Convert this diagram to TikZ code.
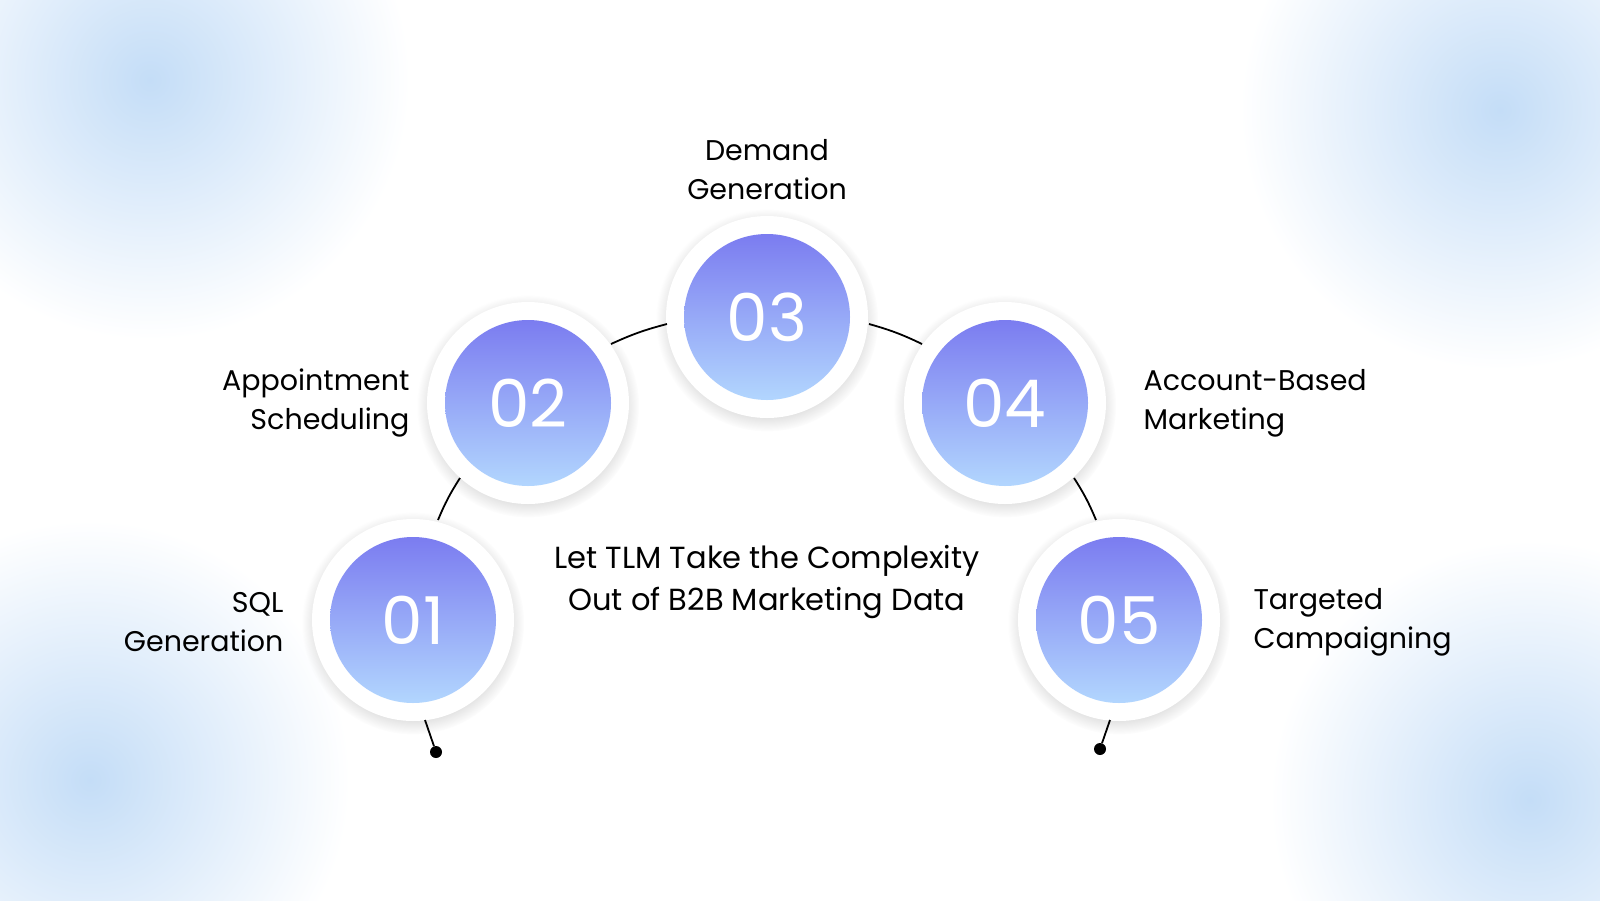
\documentclass[tikz,border=0pt]{standalone}
\usepackage{fontspec}
\setmainfont{Poppins}
\usetikzlibrary{shadows}
\definecolor{topc}{HTML}{7B7CF0}
\definecolor{botc}{HTML}{B2D6FE}
\definecolor{blob}{HTML}{C4DDF7}
\tikzset{
 ring/.style={circle,fill=white,minimum size=202pt,inner sep=0,circular drop shadow={shadow xshift=0pt,shadow yshift=-3pt,opacity=0.25}},
 num/.style={circle,minimum size=166pt,inner sep=0,top color=topc,bottom color=botc,text=white,font=\fontsize{66}{66}\selectfont},
 lbl/.style={font=\fontsize{28.5}{39}\selectfont,text=black},
 conn/.style={line width=1.8pt},
 dotc/.style={circle,fill=black,inner sep=0,minimum size=12pt}
}
\begin{document}
\begin{tikzpicture}[x=1pt,y=-1pt]
\useasboundingbox (0,0) rectangle (1600,900);
\begin{scope}
\clip (0,0) rectangle (1600,900);
\fill[white] (0,0) rectangle (1600,900);
\shade[inner color=blob,outer color=white] (150,80) circle (260);
\shade[inner color=blob,outer color=white] (1500,110) circle (260);
\shade[inner color=blob,outer color=white] (90,780) circle (260);
\shade[inner color=blob,outer color=white] (1530,800) circle (260);
\end{scope}
\foreach \n/\x/\y in {01/413/620,02/528/403,03/767/317,04/1005/403,05/1119/620}{
  \node[ring] (r\n) at (\x,\y) {};
  \node[num] (c\n) at (\x,\y) {\n};
}
\coordinate (a1) at (438,520); \coordinate (a2) at (460,478);
\coordinate (b1) at (611,344); \coordinate (b2) at (667,324);
\coordinate (d1) at (869,324); \coordinate (d2) at (922,344);
\coordinate (e1) at (1074,478); \coordinate (e2) at (1096,520);
\draw[conn] (a1) to[bend left=5] (a2);
\draw[conn] (b1) to[bend left=5] (b2);
\draw[conn] (d1) to[bend left=5] (d2);
\draw[conn] (e1) to[bend left=5] (e2);
\node[dotc] (p1) at (436,752) {};
\node[dotc] (p5) at (1100,749) {};
\coordinate (q1) at (425,720); \coordinate (q5) at (1110,720);
\draw[conn] (q1) -- (p1);
\draw[conn] (q5) -- (p5);
\node[lbl,align=center] (t3) at (767,170) {Demand\\Generation};
\node[lbl,align=right,anchor=east] (t2) at (413,403) {Appointment\\Scheduling};
\node[lbl,align=right,anchor=east] (t1) at (287,622) {SQL\\Generation};
\node[lbl,align=left,anchor=west] (t4) at (1140,403) {Account-Based\\Marketing};
\node[lbl,align=left,anchor=west] (t5) at (1250,622) {Targeted\\Campaigning};
\node[lbl,align=center,font=\fontsize{30.5}{42}\selectfont] (ct) at (767,582) {Let TLM Take the Complexity\\Out of B2B Marketing Data};
\end{tikzpicture}
\end{document}
